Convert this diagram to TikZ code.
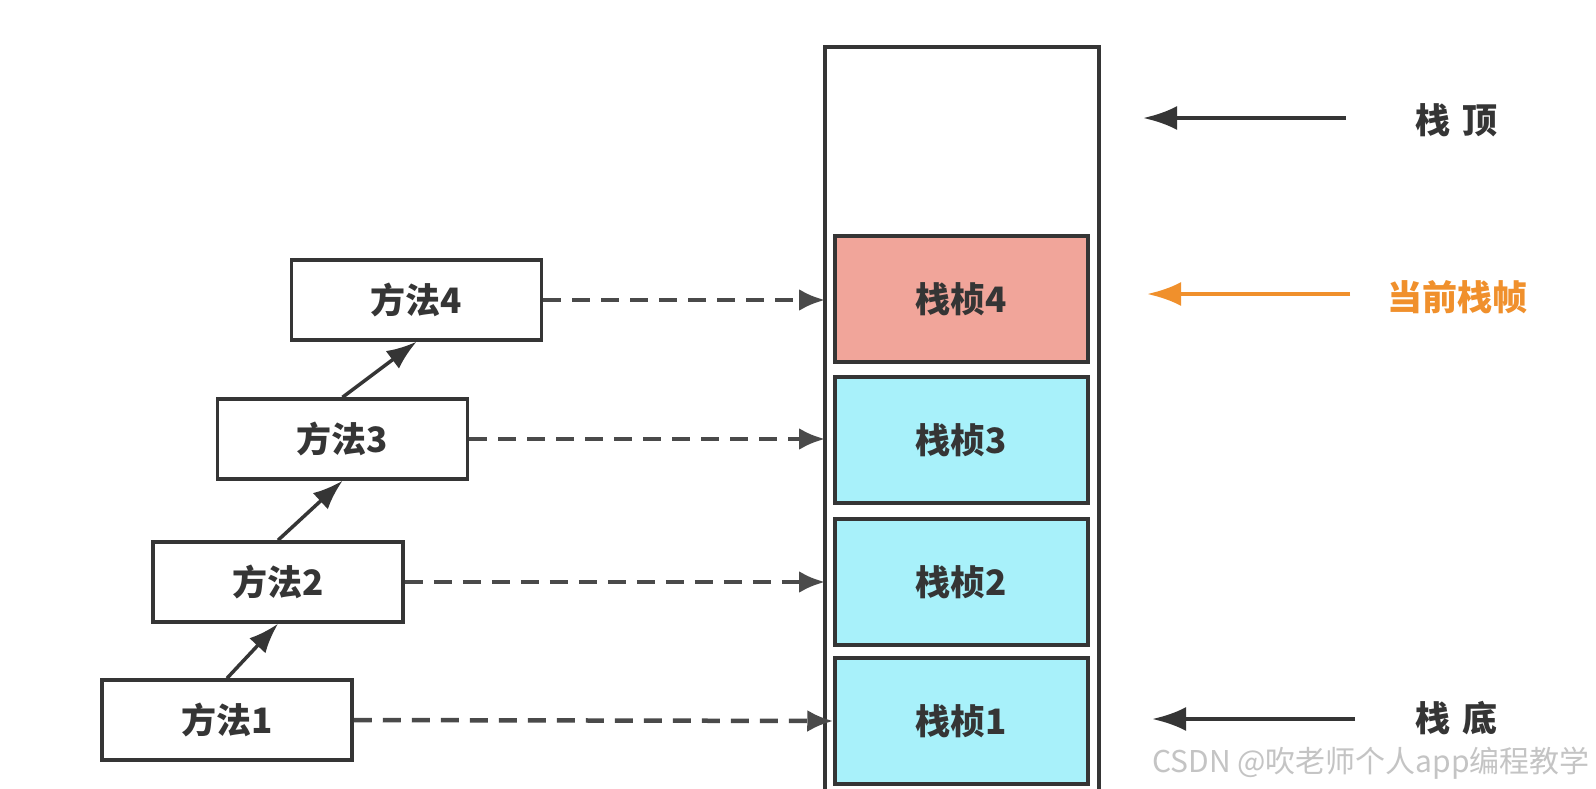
\documentclass[tikz,border=0pt]{standalone}
\usepackage{fontspec}
\newfontfamily\cjk{Noto Sans CJK SC}
\usetikzlibrary{arrows.meta}
\definecolor{ink}{HTML}{353535}
\definecolor{dashink}{HTML}{4A4A4A}
\definecolor{pinkfill}{HTML}{F1A59A}
\definecolor{cyanfill}{HTML}{A8F1FA}
\definecolor{orangeink}{HTML}{F0902C}
\definecolor{wmark}{HTML}{C4C4C4}
\begin{document}
\begin{tikzpicture}[x=1pt,y=-1pt,
  mbox/.style={draw=ink, line width=3.5pt, fill=white, minimum width=250pt,
    minimum height=80pt, inner sep=0pt, text=ink,
    font=\cjk\bfseries\fontsize{35}{35}\selectfont},
  stackframe/.style={mbox, minimum width=253pt, minimum height=126pt},
  callarrow/.style={draw=ink, line width=3.5pt, -{Latex[length=30pt,width=22pt]}},
  refarrow/.style={draw=dashink, line width=4.5pt, dash pattern=on 18pt off 11pt,
    -{Latex[length=26pt,width=22pt]}},
  sidearrow/.style={line width=4.5pt, -{Latex[length=34pt,width=24pt]}},
  sidelabel/.style={inner sep=0pt, anchor=west, font=\cjk\bfseries\fontsize{35}{35}\selectfont},
]
\useasboundingbox[fill=white] (0,0) rectangle (1596,788);

% stack outline (open at the bottom, cut by the picture edge)
\draw[draw=ink, line width=3.5pt] (825,810) -- (825,47) -- (1099,47) -- (1099,810);
\coordinate (stackleft) at (825,47);

% stack frames
\node[stackframe, fill=pinkfill] (f4) at (961.5,299) {栈桢4};
\node[stackframe, fill=cyanfill] (f3) at (961.5,440) {栈桢3};
\node[stackframe, fill=cyanfill] (f2) at (961.5,582) {栈桢2};
\node[stackframe, fill=cyanfill] (f1) at (961.5,721) {栈桢1};

% methods
\node[mbox] (m4) at (416.5,300) {方法4};
\node[mbox] (m3) at (342.5,439) {方法3};
\node[mbox] (m2) at (278,582) {方法2};
\node[mbox] (m1) at (227,720) {方法1};

% call arrows
\draw[callarrow] (m1.north) -- (m2.south);
\draw[callarrow] (m2.north) -- (m3.south);
\draw[callarrow] (m3.north) -- (m4.south);

% dashed reference arrows
\draw[refarrow] (m4.east) -- (m4.east -| stackleft);
\draw[refarrow] (m3.east) -- (m3.east -| stackleft);
\draw[refarrow] (m2.east) -- (m2.east -| stackleft);
\draw[refarrow] (m1.east) -- (f1.west);

% side labels
\node[sidelabel, text=ink] (top) at (1415,120) {栈\hspace{12pt}顶};
\coordinate (toptail) at (1346,118);
\coordinate (toptip) at (1143,118);
\draw[sidearrow, draw=ink] (toptail) -- (toptip);

\node[sidelabel, text=orangeink] (cur) at (1387,297) {当前栈帧};
\coordinate (curtail) at (1350,294);
\coordinate (curtip) at (1147,294);
\draw[sidearrow, draw=orangeink] (curtail) -- (curtip);

\node[sidelabel, text=ink] (bottom) at (1415,718) {栈\hspace{12pt}底};
\coordinate (bottail) at (1355,719);
\coordinate (bottip) at (1152,719);
\draw[sidearrow, draw=ink] (bottail) -- (bottip);

% watermark
\node[inner sep=0pt, anchor=west, text=wmark, font=\cjk\fontsize{30}{30}\selectfont] (wm) at (1152,763) {CSDN @吹老师个人app编程教学};
\end{tikzpicture}
\end{document}
